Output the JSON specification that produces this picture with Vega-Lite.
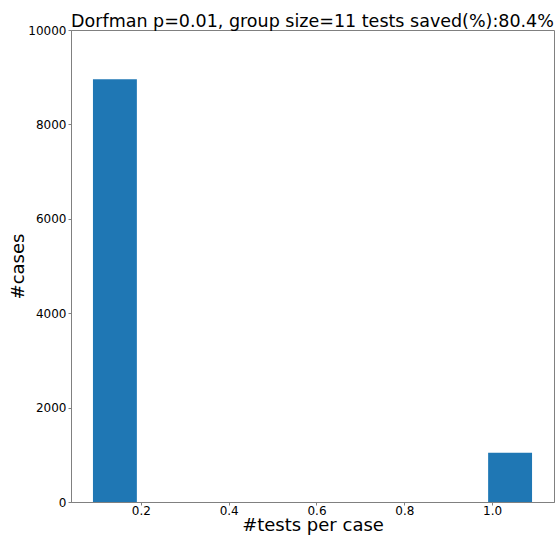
{
  "$schema": "https://vega.github.io/schema/vega-lite/v6.json",
  "width": 483,
  "height": 472,
  "autosize": {"type": "none"},
  "padding": {"left": 71, "top": 30, "right": 1, "bottom": 33},
  "background": "white",
  "title": {
    "text": "Dorfman p=0.01, group size=11 tests saved(%):80.4%",
    "font": "DejaVu Sans",
    "fontSize": 17.5,
    "fontWeight": "normal",
    "color": "#000000",
    "anchor": "middle",
    "offset": 4,
    "dy": 10
  },
  "config": {
    "view": {"stroke": "#808080", "strokeWidth": 1},
    "axis": {
      "labelFont": "DejaVu Sans",
      "labelFontSize": 12,
      "labelColor": "#000000",
      "titleFont": "DejaVu Sans",
      "titleFontSize": 18,
      "titleFontWeight": "normal",
      "titleColor": "#000000",
      "domainColor": "#808080",
      "tickColor": "#808080",
      "tickSize": 3,
      "grid": false
    }
  },
  "data": {
    "values": [
      {"x0": 0.090909, "x1": 0.190909, "cases": 8955},
      {"x0": 0.990909, "x1": 1.090909, "cases": 1045}
    ]
  },
  "mark": {"type": "rect", "color": "#1f77b4"},
  "encoding": {
    "x": {
      "field": "x0",
      "type": "quantitative",
      "scale": {"domain": [0.040909, 1.140909], "nice": false, "zero": false},
      "axis": {"values": [0.2, 0.4, 0.6, 0.8, 1.0], "format": ".1f", "title": "#tests per case", "labelPadding": 0, "titleY": 28, "titleBaseline": "alphabetic"}
    },
    "x2": {"field": "x1"},
    "y": {
      "field": "cases",
      "type": "quantitative",
      "scale": {"domain": [0, 10000], "nice": false},
      "axis": {"values": [0, 2000, 4000, 6000, 8000, 10000], "format": "d", "title": "#cases", "titlePadding": 0, "labelPadding": 2}
    },
    "y2": {"datum": 0}
  }
}
